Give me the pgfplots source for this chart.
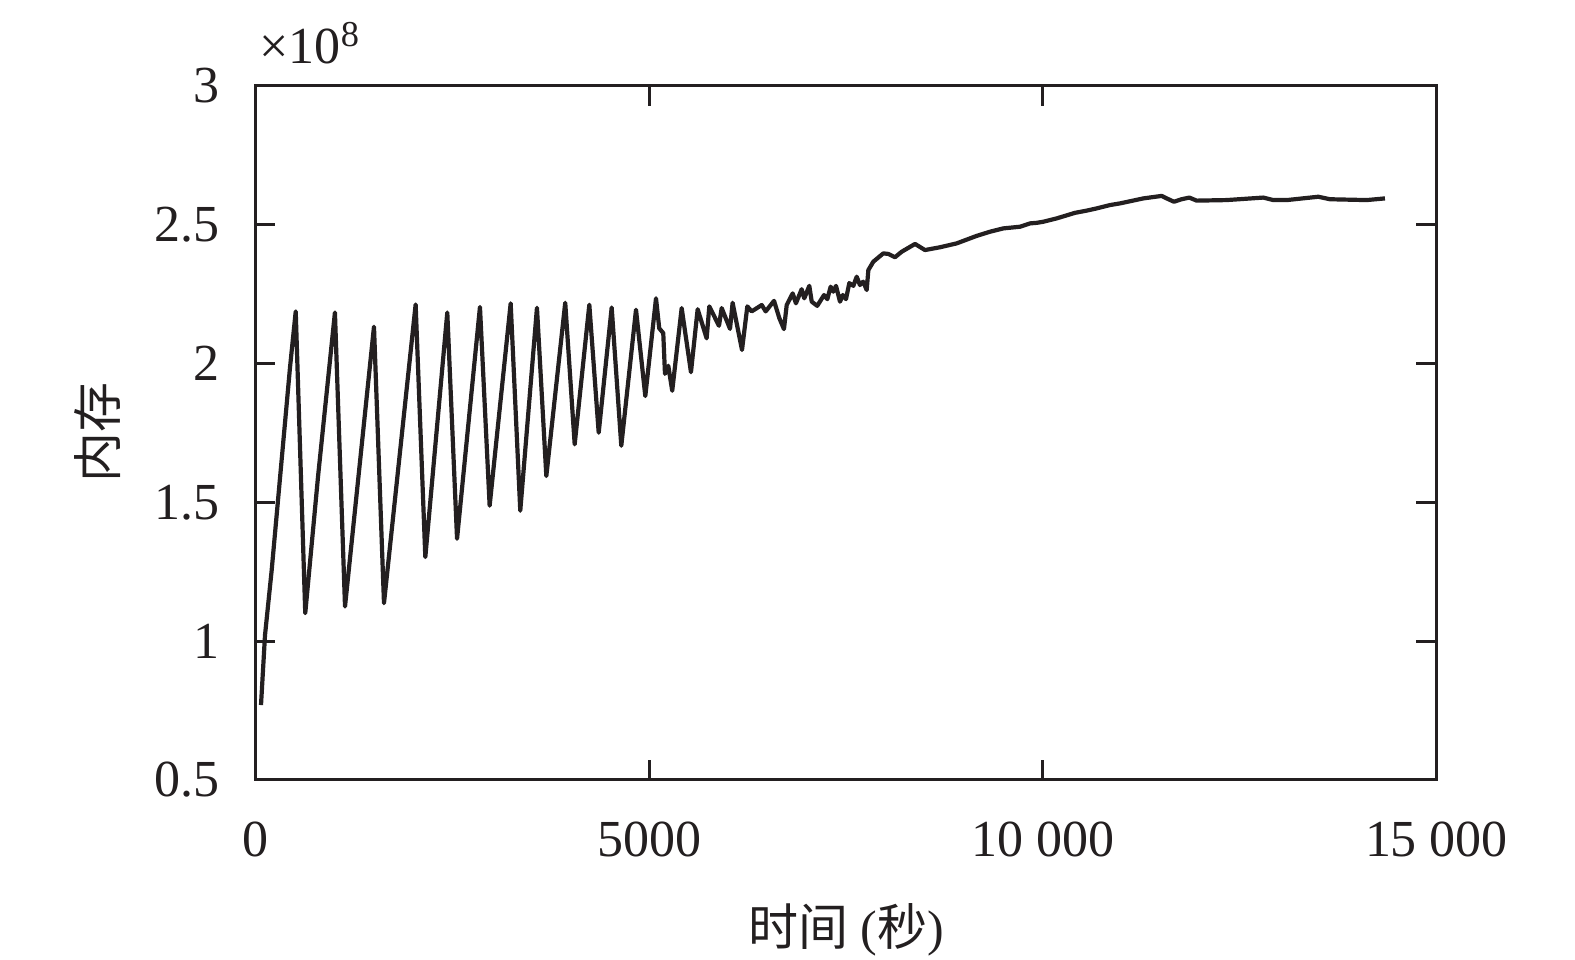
\documentclass[border=0pt]{standalone}
\usepackage{fontspec}
\setmainfont{Liberation Serif}
\newfontfamily\cjk{Noto Sans CJK SC}
\usepackage{pgfplots}
\pgfplotsset{compat=1.18}
\usepackage{pgfplotstable}
\definecolor{ink}{HTML}{231F20}
\pgfplotstableread{
x y
70 0.770
121 1.022
206 1.257
438 1.985
511 2.188
632 1.101
794 1.592
1009 2.184
1137 1.125
1505 2.133
1632 1.137
2034 2.213
2157 1.303
2436 2.184
2560 1.369
2851 2.204
2974 1.488
3241 2.217
3363 1.470
3575 2.201
3694 1.595
3934 2.219
4054 1.709
4240 2.212
4359 1.751
4524 2.202
4646 1.704
4833 2.194
4951 1.883
5087 2.235
5128 2.127
5179 2.110
5201 1.963
5243 1.992
5293 1.902
5413 2.200
5531 1.969
5616 2.196
5730 2.091
5764 2.206
5887 2.136
5921 2.200
6027 2.125
6060 2.219
6179 2.049
6247 2.206
6302 2.188
6430 2.211
6480 2.188
6586 2.226
6653 2.164
6712 2.124
6747 2.211
6823 2.253
6864 2.217
6937 2.268
6970 2.235
7034 2.280
7065 2.223
7135 2.208
7221 2.247
7263 2.232
7305 2.277
7339 2.259
7373 2.280
7424 2.223
7459 2.247
7500 2.232
7542 2.290
7593 2.280
7636 2.313
7677 2.283
7719 2.295
7763 2.265
7784 2.337
7847 2.367
7974 2.397
8038 2.395
8122 2.383
8208 2.403
8377 2.431
8503 2.409
8694 2.419
8906 2.433
9160 2.460
9329 2.475
9498 2.487
9710 2.493
9837 2.505
9922 2.507
10007 2.511
10176 2.523
10408 2.543
10557 2.551
10684 2.559
10853 2.571
10980 2.577
11276 2.595
11510 2.604
11573 2.595
11666 2.583
11763 2.592
11860 2.598
11954 2.587
12334 2.589
12800 2.598
12927 2.589
13098 2.589
13499 2.601
13647 2.592
14113 2.589
14345 2.595
}\memdata
\begin{document}
\begin{tikzpicture}
\path[use as bounding box] (-63.875pt,-45pt) rectangle (329.875pt,195pt);
\begin{axis}[
  at={(0,0)}, anchor=south west,
  scale only axis,
  width=295.25pt, height=173.5pt,
  xmin=0, xmax=15000, ymin=0.5, ymax=3,
  scaled x ticks=false, scaled y ticks=false,
  xtick={0,5000,10000,15000},
  xticklabels={0,5000,10 000,15 000},
  ytick={0.5,1,1.5,2,2.5,3},
  yticklabels={0.5,1,1.5,2,2.5,3},
  tick align=inside,
  major tick length=5pt,
  axis line style={line width=0.75pt, ink},
  tick style={line width=0.75pt, ink},
  tick label style={font=\fontsize{13}{15}\selectfont, text=ink},
  xticklabel style={yshift=-7pt},
  yticklabel style={xshift=-5.5pt},
  every axis x label/.style={at={([yshift=-37.5pt]axis description cs:0.5,0)}, anchor=center, font=\fontsize{12.5}{15}\selectfont, text=ink},
  every axis y label/.style={at={([xshift=-39.5pt]axis description cs:0,0.5)}, anchor=center, rotate=90, font=\fontsize{12.5}{15}\selectfont, text=ink},
  xlabel={{\cjk 时间} ({\cjk 秒})},
  ylabel={\cjk 内存},
  clip=false,
]
\addplot[line width=1.05pt, ink, line join=round] table[x=x, y=y] {\memdata};
\node[anchor=base west, inner sep=0pt, font=\fontsize{13}{15}\selectfont, text=ink] at ([xshift=0.8pt, yshift=5.5pt]axis description cs:0,1) {×10\textsuperscript{8}};
\end{axis}
\end{tikzpicture}
\end{document}
